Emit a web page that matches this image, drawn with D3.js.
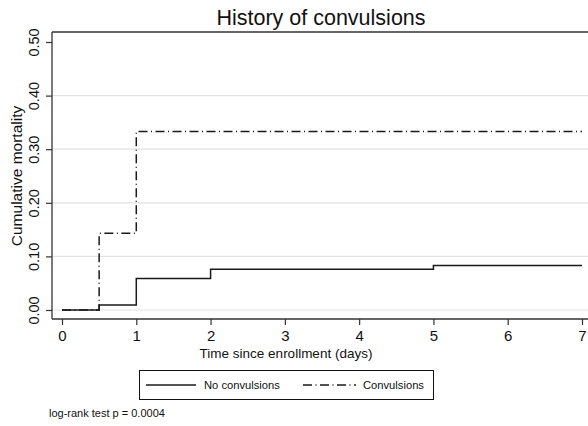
<!DOCTYPE html>
<html>
<head>
<meta charset="utf-8">
<script src="https://cdn.jsdelivr.net/npm/d3@7/dist/d3.min.js"></script>
<style>
  html, body { margin: 0; padding: 0; background: #fff; }
  svg { display: block; font-family: "Liberation Sans", Arial, Helvetica, sans-serif; }
</style>
</head>
<body>
<svg id="chart" width="588" height="426"></svg>
<script>
// Kaplan-Meier cumulative mortality by convulsion history
const xTicks = [0, 1, 2, 3, 4, 5, 6, 7];
const yTicks = [0, 0.1, 0.2, 0.3, 0.4, 0.5];
const yGrid = [0, 0.1, 0.2, 0.3, 0.4];

const noConvTimes = [0, 0.5, 1, 2, 5, 7];
const noConvMortality = [0, 0.0093, 0.059, 0.076, 0.083, 0.083];

const convTimes = [0, 0.5, 1, 7];
const convMortality = [0, 0.143, 0.333, 0.333];

const seriesNames = ["No convulsions", "Convulsions"];

const svg = d3.select("#chart");
const plot = { left: 52, top: 32, right: 590, bottom: 319 };

const x = d3.scaleLinear().domain([0, 7]).range([62, 582]);
const y = d3.scaleLinear().domain([0, 0.5]).range([310, 42]);

const axisColor = "#333";

// gridlines
svg.append("g").selectAll("line").data(yGrid).join("line")
  .attr("x1", plot.left).attr("x2", plot.right)
  .attr("y1", d => y(d)).attr("y2", d => y(d))
  .attr("stroke", "#e2e2e2").attr("stroke-width", 1.2);

// frame: top border
svg.append("line")
  .attr("x1", plot.left).attr("x2", plot.right)
  .attr("y1", plot.top).attr("y2", plot.top)
  .attr("stroke", axisColor).attr("stroke-width", 1.3);

// left axis
const yAxis = d3.axisLeft(y).tickValues(yTicks).tickSize(6).tickFormat(d3.format(".2f"));
const gy = svg.append("g").attr("transform", `translate(${plot.left},0)`).call(yAxis);
gy.select(".domain").remove();
gy.selectAll(".tick line").attr("stroke", axisColor).attr("stroke-width", 1.2);
gy.selectAll(".tick text")
  .attr("font-family", "Liberation Sans, Arial, sans-serif")
  .attr("font-size", 14.5).attr("fill", "#111")
  .attr("transform", "rotate(-90)")
  .attr("x", 0).attr("dx", 0)
  .attr("y", -13).attr("dy", 0)
  .attr("text-anchor", "middle");
svg.append("line")
  .attr("x1", plot.left).attr("x2", plot.left)
  .attr("y1", plot.top).attr("y2", plot.bottom)
  .attr("stroke", axisColor).attr("stroke-width", 1.3);

// bottom axis
const xAxis = d3.axisBottom(x).tickValues(xTicks).tickSize(6).tickFormat(d3.format("d"));
const gx = svg.append("g").attr("transform", `translate(0,${plot.bottom})`).call(xAxis);
gx.select(".domain").remove();
gx.selectAll(".tick line").attr("stroke", axisColor).attr("stroke-width", 1.2);
gx.selectAll(".tick text")
  .attr("font-family", "Liberation Sans, Arial, sans-serif")
  .attr("font-size", 15).attr("fill", "#111")
  .attr("y", 11.5).attr("dy", "0.71em");
svg.append("line")
  .attr("x1", plot.left).attr("x2", plot.right)
  .attr("y1", plot.bottom).attr("y2", plot.bottom)
  .attr("stroke", axisColor).attr("stroke-width", 1.3);

// step curves
const line = d3.line().curve(d3.curveStepAfter).x(d => x(d[0])).y(d => y(d[1]));
svg.append("path")
  .datum(noConvTimes.map((t, i) => [t, noConvMortality[i]]))
  .attr("d", line).attr("fill", "none")
  .attr("stroke", "#1a1a1a").attr("stroke-width", 1.5);
svg.append("path")
  .datum(convTimes.map((t, i) => [t, convMortality[i]]))
  .attr("d", line).attr("fill", "none")
  .attr("stroke", "#1a1a1a").attr("stroke-width", 1.5)
  .attr("stroke-dasharray", "9,3.5,1,3.5");

// titles
svg.append("text").attr("x", 321).attr("y", 25)
  .attr("text-anchor", "middle").attr("font-size", 21.5).attr("fill", "#111")
  .text("History of convulsions");
svg.append("text").attr("x", 286).attr("y", 358)
  .attr("text-anchor", "middle").attr("font-size", 13.5).attr("fill", "#111")
  .text("Time since enrollment (days)");
svg.append("text")
  .attr("transform", `translate(22,176) rotate(-90)`)
  .attr("text-anchor", "middle").attr("font-size", 15.5).attr("fill", "#111")
  .text("Cumulative mortality");

// legend
const lg = svg.append("g");
lg.append("rect").attr("x", 139.5).attr("y", 370.5).attr("width", 294).attr("height", 29)
  .attr("fill", "#fff").attr("stroke", "#111").attr("stroke-width", 1);
lg.append("line").attr("x1", 146).attr("x2", 196).attr("y1", 385).attr("y2", 385)
  .attr("stroke", "#1a1a1a").attr("stroke-width", 1.3);
lg.append("text").attr("x", 204).attr("y", 389).attr("font-size", 11.2).attr("fill", "#111")
  .text(seriesNames[0]);
lg.append("line").attr("x1", 303).attr("x2", 356).attr("y1", 385).attr("y2", 385)
  .attr("stroke", "#1a1a1a").attr("stroke-width", 1.3)
  .attr("stroke-dasharray", "9,3.5,1,3.5");
lg.append("text").attr("x", 363).attr("y", 389).attr("font-size", 11.2).attr("fill", "#111")
  .text(seriesNames[1]);

// note
svg.append("text").attr("x", 49).attr("y", 417).attr("font-size", 11).attr("fill", "#111")
  .text("log-rank test p = 0.0004");
</script>
</body>
</html>
